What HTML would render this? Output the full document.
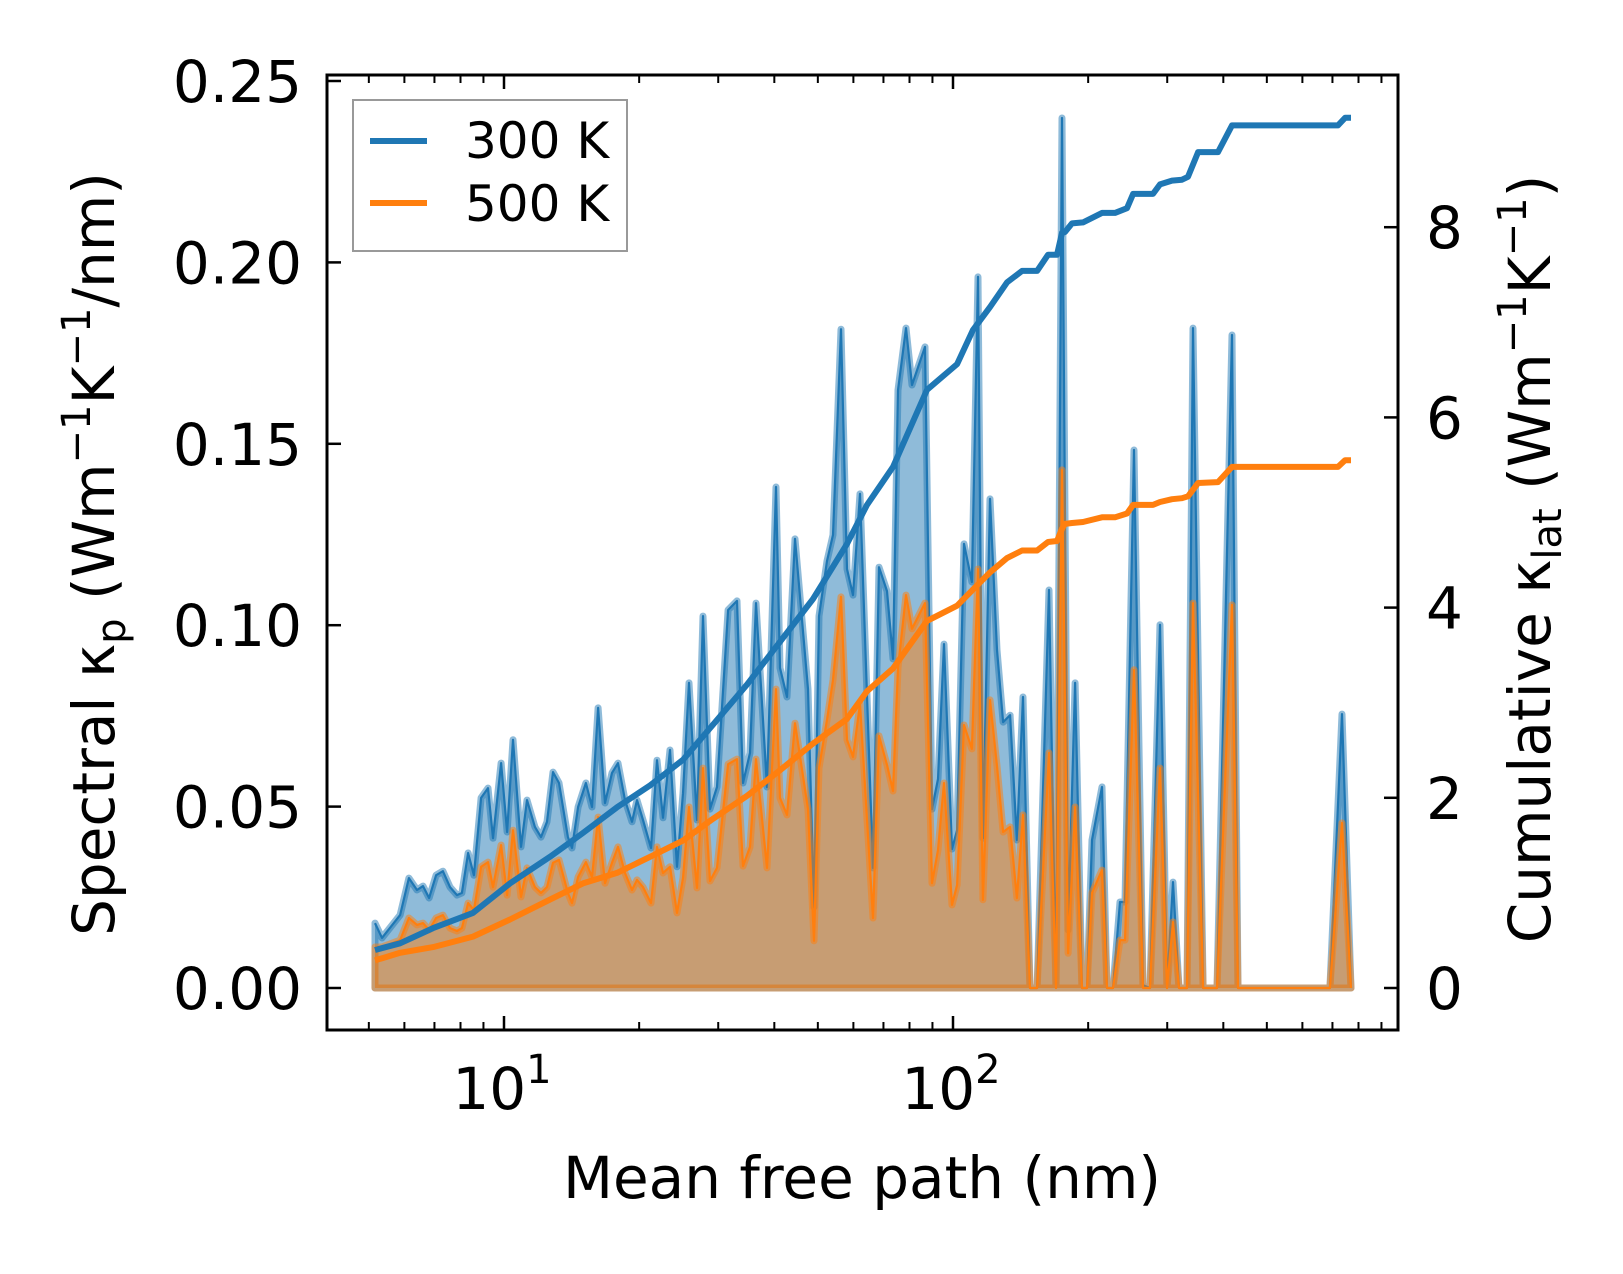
<!DOCTYPE html>
<html><head><meta charset="utf-8"><style>
html,body{margin:0;padding:0;background:#fff}
svg text{font-family:"DejaVu Sans","Liberation Sans",sans-serif;fill:#000}
</style></head><body>
<svg id="chart" width="1623" height="1269" viewBox="0 0 1623 1269" xmlns="http://www.w3.org/2000/svg">
<rect width="1623" height="1269" fill="#fff"/>
<g id="plot"></g>
<g id="axes"></g>
</svg>
<script>
// spectral data
const specMfp = [5.16,5.35,5.87,6.14,6.40,6.60,6.81,7.06,7.31,7.58,7.86,8.06,8.32,8.57,8.89,9.21,9.45,9.85,10.16,10.47,10.91,11.25,11.72,12.09,12.47,12.86,13.26,13.88,14.17,14.62,15.22,15.70,16.20,16.79,17.40,17.94,18.60,19.28,19.78,20.40,21.25,21.92,22.60,23.43,24.28,25.04,25.82,26.91,27.75,28.76,29.81,31.55,33.04,34.07,35.31,36.41,38.52,40.34,41.18,42.68,44.47,47.55,49.03,50.30,52.41,54.05,56.31,58.07,59.89,62.08,66.34,68.42,71.29,73.52,75.43,78.59,81.05,86.62,89.79,92.61,95.50,99.49,102.1,105.8,110.2,113.7,116.6,120.9,125.3,129.3,134.0,138.8,143.2,148.4,153.9,163.6,169.6,174.9,180.4,187.0,193.8,198.8,204.0,214.7,220.3,227.2,235.5,241.6,253.0,265.0,274.7,289.1,299.7,309.0,318.6,332.0,342.4,360.5,387.3,418.2,431.3,691,735,770];
const spec300 = [0.0179,0.0138,0.0201,0.0303,0.0270,0.0281,0.0248,0.0311,0.0322,0.0278,0.0256,0.0262,0.0372,0.0311,0.0524,0.0551,0.0413,0.0620,0.0430,0.0684,0.0389,0.0518,0.0444,0.0416,0.0458,0.0595,0.0565,0.0416,0.0386,0.0499,0.0565,0.0499,0.0772,0.0510,0.0593,0.0620,0.0518,0.0458,0.0518,0.0463,0.0386,0.0628,0.0469,0.0656,0.0334,0.0537,0.0841,0.0463,0.1025,0.0493,0.0554,0.1042,0.1067,0.0565,0.0648,0.1061,0.0554,0.1381,0.0882,0.0802,0.1238,0.0824,0.0223,0.1025,0.1177,0.1249,0.1816,0.1155,0.1083,0.1362,0.0331,0.1160,0.1094,0.0907,0.1648,0.1819,0.1662,0.1767,0.0493,0.0576,0.0948,0.0383,0.0435,0.1224,0.1119,0.1960,0.0413,0.1348,0.0932,0.0733,0.0752,0.0408,0.0802,0,0,0.1097,0,0.2398,0.0160,0.0841,0,0,0.0408,0.0554,0,0,0.0237,0.0237,0.1483,0.0008,0,0.1001,0,0.0292,0,0,0.1819,0,0,0.1800,0,0,0.0755,0];
const spec500 = [0.0113,0.0113,0.0132,0.0193,0.0174,0.0179,0.0160,0.0193,0.0201,0.0165,0.0157,0.0165,0.0234,0.0215,0.0334,0.0347,0.0278,0.0394,0.0256,0.0435,0.0251,0.0331,0.0278,0.0262,0.0278,0.0345,0.0353,0.0262,0.0234,0.0306,0.0347,0.0306,0.0471,0.0289,0.0345,0.0389,0.0317,0.0270,0.0298,0.0278,0.0234,0.0389,0.0317,0.0334,0.0207,0.0303,0.0499,0.0276,0.0606,0.0295,0.0331,0.0617,0.0631,0.0336,0.0389,0.0631,0.0331,0.0824,0.0524,0.0477,0.0730,0.0493,0.0130,0.0606,0.0739,0.0849,0.1078,0.0684,0.0637,0.0783,0.0193,0.0695,0.0615,0.0543,0.0882,0.1083,0.0990,0.1061,0.0289,0.0380,0.0565,0.0229,0.0284,0.0725,0.0659,0.1155,0.0243,0.0794,0.0612,0.0430,0.0444,0.0248,0.0477,0,0,0.0648,0,0.1428,0.0096,0.0499,0,0,0.0262,0.0325,0,0,0.0132,0.0132,0.0877,0,0,0.0606,0,0.0182,0,0,0.1061,0,0,0.1056,0,0,0.0455,0];
// cumulative data
const cumMfp = [5.16,5.87,6.95,8.53,10.31,12.66,14.99,17.85,21.15,25.04,29.22,34.77,41.18,48.78,58.07,64.34,73.52,87.52,102.1,110.8,120.9,131.9,142.5,153.9,162.8,170.5,174.9,177.6,184.1,194.8,214.7,229.5,244.1,251.8,278.9,289.1,307.4,323.6,333.8,351.4,389.3,418.2,720,747,770];
const cum300 = [0.40,0.47,0.63,0.79,1.10,1.38,1.63,1.90,2.13,2.40,2.77,3.19,3.64,4.09,4.67,5.08,5.48,6.29,6.56,6.92,7.16,7.42,7.54,7.54,7.71,7.71,7.94,7.95,8.04,8.05,8.15,8.15,8.20,8.35,8.35,8.45,8.49,8.50,8.53,8.79,8.79,9.07,9.07,9.15,9.15];
const cum500 = [0.29,0.37,0.43,0.54,0.72,0.93,1.10,1.21,1.38,1.55,1.78,2.02,2.29,2.57,2.83,3.12,3.36,3.86,4.02,4.19,4.37,4.52,4.60,4.60,4.69,4.70,4.83,4.88,4.89,4.90,4.95,4.95,4.99,5.08,5.08,5.11,5.14,5.15,5.17,5.31,5.32,5.48,5.48,5.55,5.55];
const leftTicks = [0, 0.05, 0.10, 0.15, 0.20, 0.25];
const leftTickLabels = ["0.00","0.05","0.10","0.15","0.20","0.25"];
const rightTicks = [0, 2, 4, 6, 8];
const rightTickLabels = ["0","2","4","6","8"];
const xMajor = [10, 100];
const xMajorExp = ["1","2"];
const xMinor = [5,6,7,8,9,20,30,40,50,60,70,80,90,200,300,400,500,600,700,800,900];

const L=327,R=1398,T=75,B=1030;
const X = v => 504 + 449*(Math.log10(v)-1);
const YL = v => 988 - 3628*v;
const YR = v => 988 - 95.1*v;
const NS="http://www.w3.org/2000/svg";
const plot=document.getElementById('plot'), axes=document.getElementById('axes');
function mk(tag, parent, attrs){const e=document.createElementNS(NS,tag);for(const k in attrs)e.setAttribute(k,attrs[k]);parent.appendChild(e);return e;}

const cp=mk('clipPath', plot, {id:'clip'});
mk('rect',cp,{x:L,y:T,width:R-L,height:B-T});
const g=mk('g',plot,{'clip-path':'url(#clip)'});

function spectral(vals,color,name){
  let line=specMfp.map((m,i)=>`${X(m).toFixed(1)},${YL(vals[i]).toFixed(1)}`).join(' L');
  const poly = `M${X(specMfp[0])},${YL(0)} L${line} L${X(specMfp[specMfp.length-1])},${YL(0)} Z`;
  const f=mk('path',g,{d:poly,fill:color,'fill-opacity':0.5,stroke:color,'stroke-opacity':0.5,'stroke-width':7,'stroke-linejoin':'round'});
  
  
  const l=mk('path',g,{d:'M'+line,fill:'none',stroke:color,'stroke-width':2.2,'stroke-linejoin':'round'});
  
  
}
spectral(spec300,'#1f77b4','300k');
spectral(spec500,'#ff7f0e','500k');
function cum(vals,color,name){
  const d='M'+cumMfp.map((m,i)=>`${X(m).toFixed(1)},${YR(vals[i]).toFixed(1)}`).join(' L');
  const p=mk('path',g,{d:d,fill:'none',stroke:color,'stroke-width':6,'stroke-linejoin':'round'});
  
  
}
cum(cum300,'#1f77b4','300k');
cum(cum500,'#ff7f0e','500k');

const fr=mk('rect',axes,{x:L,y:T,width:R-L,height:B-T,fill:'none',stroke:'#000','stroke-width':3});


function tick(x1,y1,x2,y2,w){mk('line',axes,{x1,y1,x2,y2,stroke:'#000','stroke-width':w||2.5});}
leftTicks.forEach((v,i)=>{const y=YL(v);tick(L,y,L+14,y);
  const t=mk('text',axes,{x:302,y:y+21,'text-anchor':'end','font-size':58});t.textContent=leftTickLabels[i];
  
  });
rightTicks.forEach((v,i)=>{const y=YR(v);tick(R,y,R-14,y);
  const t=mk('text',axes,{x:1426,y:y+21,'text-anchor':'start','font-size':58});t.textContent=rightTickLabels[i];
  
  });
xMajor.forEach((v,i)=>{const x=X(v);tick(x,B,x,B-14);tick(x,T,x,T+14);
  const t=mk('text',axes,{x:x-2,y:1109,'text-anchor':'middle','font-size':58});
  t.innerHTML='10<tspan font-size="40" dy="-26">'+xMajorExp[i]+'</tspan>';
  
  });
xMinor.forEach(v=>{const x=X(v);if(x>L&&x<R){tick(x,B,x,B-8,2);tick(x,T,x,T+8,2);}});
</script>
<div style="position:absolute;left:0;top:0">
<svg width="1623" height="1269" viewBox="0 0 1623 1269" xmlns="http://www.w3.org/2000/svg" style="position:absolute;left:0;top:0">
<g>
<rect x="353" y="100" width="274" height="151" fill="#fff" fill-opacity="0.8" stroke="#999" stroke-width="2"/>
<line x1="370" y1="141" x2="427" y2="141" stroke="#1f77b4" stroke-width="6"/>
<line x1="370" y1="203" x2="427" y2="203" stroke="#ff7f0e" stroke-width="6"/>
<text x="465" y="158" font-size="50" font-family="DejaVu Sans, Liberation Sans, sans-serif">300 K</text>
<text x="465" y="221" font-size="50" font-family="DejaVu Sans, Liberation Sans, sans-serif">500 K</text>
</g>
<text x="862" y="1198" text-anchor="middle" font-size="58" font-family="DejaVu Sans, Liberation Sans, sans-serif">Mean free path (nm)</text>
<text transform="translate(114,554) rotate(-90)" text-anchor="middle" font-size="58" font-family="DejaVu Sans, Liberation Sans, sans-serif">Spectral κ<tspan font-size="40" dy="11">p</tspan><tspan dy="-11"> (Wm</tspan><tspan font-size="40" dy="-24">−1</tspan><tspan dy="24">K</tspan><tspan font-size="40" dy="-24">−1</tspan><tspan dy="24">/nm)</tspan></text>
<text transform="translate(1550,559) rotate(-90)" text-anchor="middle" font-size="58" font-family="DejaVu Sans, Liberation Sans, sans-serif">Cumulative κ<tspan font-size="40" dy="11">lat</tspan><tspan dy="-11"> (Wm</tspan><tspan font-size="40" dy="-24">−1</tspan><tspan dy="24">K</tspan><tspan font-size="40" dy="-24">−1</tspan><tspan dy="24">)</tspan></text>
</svg>
</div>
</body></html>
